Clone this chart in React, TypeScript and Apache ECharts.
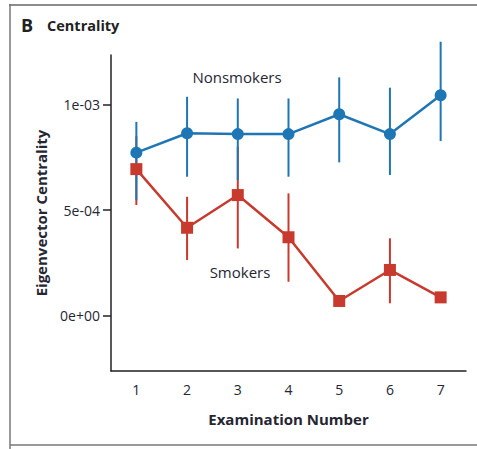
import React, { useEffect, useRef } from "react";
import * as echarts from "echarts";

const categories = ["1", "2", "3", "4", "5", "6", "7"];
const nonsmokers = [7.72e-4, 8.64e-4, 8.6e-4, 8.6e-4, 9.54e-4, 8.6e-4, 1.044e-3];
const nonsmokersLow = [5.47e-4, 6.58e-4, 6.42e-4, 6.58e-4, 7.26e-4, 6.66e-4, 8.27e-4];
const nonsmokersHigh = [9.18e-4, 1.037e-3, 1.029e-3, 1.029e-3, 1.129e-3, 1.08e-3, 1.298e-3];
const smokers = [6.94e-4, 4.16e-4, 5.71e-4, 3.71e-4, 0.69e-4, 2.16e-4, 0.86e-4];
const smokersLow = [5.24e-4, 2.63e-4, 3.18e-4, 1.6e-4, null, 0.58e-4, null];
const smokersHigh = [8.5e-4, 5.63e-4, 8.0e-4, 5.79e-4, null, 3.66e-4, null];
const yTickValues = [0, 5e-4, 1e-3];
const yTickLabels = ["0e+00", "5e-04", "1e-03"];

const BLUE = "#1f76b4";
const RED = "#c83a2e";
const TEXT = "#262633";
const FONT = "'Open Sans', 'DejaVu Sans', sans-serif";

function errData(low: (number | null)[], high: (number | null)[]) {
  const out: number[][] = [];
  low.forEach((l, i) => {
    const h = high[i];
    if (l != null && h != null) out.push([i, l, h]);
  });
  return out;
}

function errSeries(name: string, low: (number | null)[], high: (number | null)[], color: string, z: number) {
  return {
    name,
    type: "custom",
    z,
    encode: { x: 0, y: [1, 2] },
    data: errData(low, high),
    renderItem: (params: any, api: any) => {
      const x = api.value(0);
      const lo = api.coord([x, api.value(1)]);
      const hi = api.coord([x, api.value(2)]);
      return {
        type: "line",
        shape: { x1: lo[0], y1: lo[1], x2: hi[0], y2: hi[1] },
        style: { stroke: color, lineWidth: 2 },
      };
    },
  };
}

export default function App() {
  const ref = useRef<HTMLDivElement>(null);
  useEffect(() => {
    if (!ref.current) return;
    const chart = echarts.init(ref.current, null, { renderer: "svg" });
    chart.setOption({
      animation: false,
      grid: { left: 111, right: 11, top: 55, bottom: 78 },
      xAxis: {
        type: "category",
        data: categories,
        boundaryGap: true,
        name: "Examination Number",
        nameLocation: "middle",
        nameGap: 40,
        nameTextStyle: { fontFamily: FONT, fontWeight: "bold", fontSize: 15, color: TEXT },
        axisLine: { onZero: false, lineStyle: { color: "#222", width: 1.5 } },
        axisTick: { alignWithLabel: true, length: 8, lineStyle: { color: "#222", width: 1.5 } },
        axisLabel: { margin: 11, fontFamily: FONT, fontSize: 14, color: TEXT },
        splitLine: { show: false },
      },
      yAxis: {
        type: "value",
        min: -0.263e-3,
        max: 1.235e-3,
        name: "Eigenvector Centrality",
        nameLocation: "middle",
        nameGap: 63,
        nameTextStyle: { fontFamily: FONT, fontWeight: "bold", fontSize: 15, color: TEXT },
        axisLine: { show: true, onZero: false, lineStyle: { color: "#222", width: 1.5 } },
        axisTick: { show: true, length: 8, customValues: yTickValues, lineStyle: { color: "#222", width: 1.5 } },
        axisLabel: {
          margin: 11,
          fontFamily: FONT,
          fontSize: 14,
          color: TEXT,
          customValues: yTickValues,
          formatter: (v: number) => {
            const i = yTickValues.findIndex((t) => Math.abs(t - v) < 1e-9);
            return i >= 0 ? yTickLabels[i] : "";
          },
        },
        splitLine: { show: false },
      },
      graphic: [
        { type: "line", shape: { x1: 9, y1: 5, x2: 477, y2: 5 }, style: { stroke: "#666", lineWidth: 1.5 }, silent: true },
        { type: "line", shape: { x1: 10, y1: 4, x2: 10, y2: 449 }, style: { stroke: "#777", lineWidth: 1.5 }, silent: true },
        { type: "line", shape: { x1: 10, y1: 445, x2: 477, y2: 445 }, style: { stroke: "#777", lineWidth: 1.5 }, silent: true },
        {
          type: "text",
          left: 21,
          top: 16,
          style: { text: "B", fontFamily: FONT, fontWeight: "bold", fontSize: 18, fill: "#222" },
        },
        {
          type: "text",
          left: 47,
          top: 18,
          style: { text: "Centrality", fontFamily: FONT, fontWeight: "bold", fontSize: 14.5, fill: "#222" },
        },
        {
          type: "text",
          x: 237,
          y: 77,
          style: { text: "Nonsmokers", fontFamily: FONT, fontSize: 15, fill: TEXT, textAlign: "center", textVerticalAlign: "middle" },
        },
        {
          type: "text",
          x: 240,
          y: 272,
          style: { text: "Smokers", fontFamily: FONT, fontSize: 15, fill: TEXT, textAlign: "center", textVerticalAlign: "middle" },
        },
      ],
      series: [
        errSeries("Smokers CI", smokersLow, smokersHigh, RED, 1),
        errSeries("Nonsmokers CI", nonsmokersLow, nonsmokersHigh, BLUE, 2),
        {
          name: "Nonsmokers",
          type: "line",
          z: 3,
          data: nonsmokers,
          symbol: "circle",
          symbolSize: 12,
          lineStyle: { color: BLUE, width: 2.5 },
          itemStyle: { color: BLUE },
        },
        {
          name: "Smokers",
          type: "line",
          z: 4,
          data: smokers,
          symbol: "rect",
          symbolSize: 12,
          lineStyle: { color: RED, width: 2.5 },
          itemStyle: { color: RED },
        },
      ],
    });
    return () => chart.dispose();
  }, []);
  return (
    <div
      ref={ref}
      style={{ position: "absolute", left: 0, top: 0, width: 477, height: 449, background: "#fff" }}
    />
  );
}
